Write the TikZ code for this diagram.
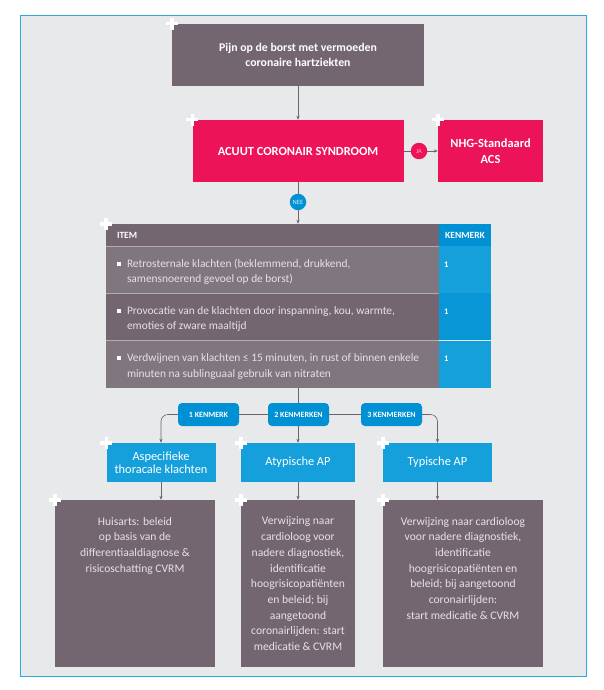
\documentclass[tikz,border=0pt]{standalone}
\usepackage{fontspec}
\setmainfont{Carlito}
\usetikzlibrary{arrows.meta}

\definecolor{mauve}{RGB}{115,102,112}
\definecolor{mauvelight}{RGB}{128,118,126}
\definecolor{acsred}{RGB}{236,19,88}
\definecolor{boxblue}{RGB}{21,160,219}
\definecolor{tagblue}{RGB}{0,144,212}
\definecolor{panelgrey}{RGB}{232,233,235}
\definecolor{panelline}{RGB}{42,168,224}
\definecolor{pale}{RGB}{232,224,232}
\definecolor{linegrey}{RGB}{110,100,106}

\newcommand{\toptext}[2]{\parbox[c][133pt][t]{#1}{\centering #2}}
\newcommand{\itemtext}[1]{\hspace*{21pt}\parbox[c]{312pt}{\vspace*{5pt}\raggedright\leavevmode\llap{\textcolor{white}{\rule[1.5pt]{4.2pt}{4.2pt}}\hspace{6pt}}#1}}
\newcommand{\celltext}[1]{\parbox[c]{42pt}{\vspace*{5pt}#1\\\mbox{}}}

\begin{document}
\begin{tikzpicture}[x=1pt, y=-1pt,
		>={Stealth[length=4pt,width=3.2pt]},
		every node/.style={inner sep=0pt},
		flow/.style={draw=linegrey, line width=0.6pt},
		greybox/.style={fill=mauve, text=white, align=center, minimum height=62pt, font=\fontsize{11.8}{15}\selectfont\bfseries},
		redbox/.style={fill=acsred, text=white, align=center, minimum height=62pt, font=\fontsize{12.4}{16}\selectfont\bfseries},
		bluebox/.style={fill=boxblue, text=white, align=center, minimum height=39pt, font=\fontsize{12.4}{13.5}\selectfont},
		advice/.style={fill=mauve, text=pale, minimum height=167pt, font=\fontsize{11.6}{15.7}\selectfont},
		row/.style={text=pale, minimum width=333pt, minimum height=47pt, font=\fontsize{11.4}{15.5}\selectfont},
		cell/.style={text=white, minimum width=52pt, minimum height=47pt, font=\fontsize{8.5}{15.5}\selectfont\bfseries},
		tag/.style={fill=tagblue, text=white, rounded corners=4pt, minimum width=61pt, minimum height=23pt, font=\fontsize{8}{9}\selectfont\bfseries},
		dot/.style={circle, minimum size=16.5pt, font=\fontsize{6.5}{7}\selectfont},
	]
	\fill [white] (0,0) rectangle (603,690);
	\useasboundingbox (0,0) rectangle (603,690);
	\draw [panelline, fill=panelgrey, line width=0.8pt] (20,15) rectangle (586,676);

	% top of the scheme
	\node [greybox, minimum width=252pt] (pain) at (298,55) {Pijn op de borst met vermoeden\\coronaire hartziekten};
	\node [redbox, minimum width=211pt] (acs) at (298,151) {ACUUT CORONAIR SYNDROOM};
	\node [redbox, minimum width=105pt] (nhg) at (490.5,151) {NHG-Standaard\\ACS};
	\node [dot, fill=acsred, text=white!65!acsred] (ja) at (419,151) {JA};
	\node [dot, fill=tagblue, text=white!85!tagblue] (nee) at (298,202) {NEE};

	% table
	\node [row, fill=mauve, minimum height=22pt, text=white, font=\fontsize{9.5}{10}\selectfont\bfseries] (hdr) at (272.5,235) {\makebox[333pt][l]{\hspace{11pt}ITEM}};
	\node [cell, fill=tagblue, minimum height=22pt, font=\fontsize{9.5}{10}\selectfont\bfseries] (hdrk) at (465,235) {KENMERK};
	\foreach \n/\y/\bg/\kb/\txt in {
		1/269.5/mauvelight/boxblue/{Retrosternale klachten (beklemmend, drukkend,\\samensnoerend gevoel op de borst)},
		2/316.5/mauve/tagblue!60!boxblue/{Provocatie van de klachten door inspanning, kou, warmte,\\emoties of zware maaltijd},
		3/364/mauvelight/boxblue/{Verdwijnen van klachten ≤ 15 minuten, in rust of binnen enkele\\minuten na sublinguaal gebruik van nitraten}} {
		\node [row, fill=\bg] (item\n) at (272.5,\y) {\itemtext{\txt}};
		\node [cell, fill=\kb] (score\n) at (465,\y) {\celltext{1}};
		\draw [mauve!55!white, line width=0.5pt] (item\n.north west) -- (item\n.north east);
	}

	% three outcomes
	\node [bluebox, minimum width=109pt] (aspec) at (161,462.5) {Aspecifieke\\thoracale klachten};
	\node [bluebox, minimum width=114pt] (atyp) at (298,462.5) {Atypische AP};
	\node [bluebox, minimum width=109pt] (typ) at (437.5,462.5) {Typische AP};
	\node [advice, minimum width=160pt] (adv1) at (135,583.5) {\toptext{156pt}{Huisarts: beleid\\op basis van de\\differentiaaldiagnose \&\\risicoschatting CVRM}};
	\node [advice, minimum width=114pt] (adv2) at (298,583.5) {\toptext{112pt}{Verwijzing naar\\cardioloog voor\\nadere diagnostiek,\\identificatie\\hoogrisicopatiënten\\en beleid; bij\\aangetoond\\coronairlijden: start\\medicatie \& CVRM}};
	\node [advice, minimum width=160pt] (adv3) at (463,583.5) {\toptext{156pt}{Verwijzing naar cardioloog\\voor nadere diagnostiek,\\identificatie\\hoogrisicopatiënten en\\beleid; bij aangetoond\\coronairlijden:\\start medicatie \& CVRM}};

	% connectors
	\draw [flow, ->] (pain) -- (acs);
	\draw [flow] (acs) -- (ja);
	\draw [flow, ->] (ja) -- (nhg);
	\draw [flow] (acs) -- (nee);
	\draw [flow, ->] (nee) -- (nee |- hdr.north);
	\coordinate (split) at (298,414.5);
	\draw [flow] (item3.south -| nee) -- (split);
	\draw [flow, ->, rounded corners=7pt] (split) -| (aspec);
	\draw [flow, ->, rounded corners=7pt] (split) -| (typ);
	\draw [flow, ->] (split) -- (atyp);
	\draw [flow, ->] (aspec) -- (aspec |- adv1.north);
	\draw [flow, ->] (atyp) -- (adv2);
	\draw [flow, ->] (typ) -- (typ |- adv3.north);
	\node [tag] (one) at (208.5,414.5) {1 KENMERK};
	\node [tag] (two) at (298.5,414.5) {2 KENMERKEN};
	\node [tag] (three) at (391.5,414.5) {3 KENMERKEN};

	\foreach \c in {pain.north west, acs.north west, nhg.north west, hdr.north west, aspec.north west, atyp.north west, typ.north west, adv1.north west, adv2.north west, adv3.north west} {
		\fill [white] (\c) ++(-6,-1.7) rectangle ++(12,3.4);
		\fill [white] (\c) ++(-1.7,-6) rectangle ++(3.4,12);
	}
\end{tikzpicture}
\end{document}
